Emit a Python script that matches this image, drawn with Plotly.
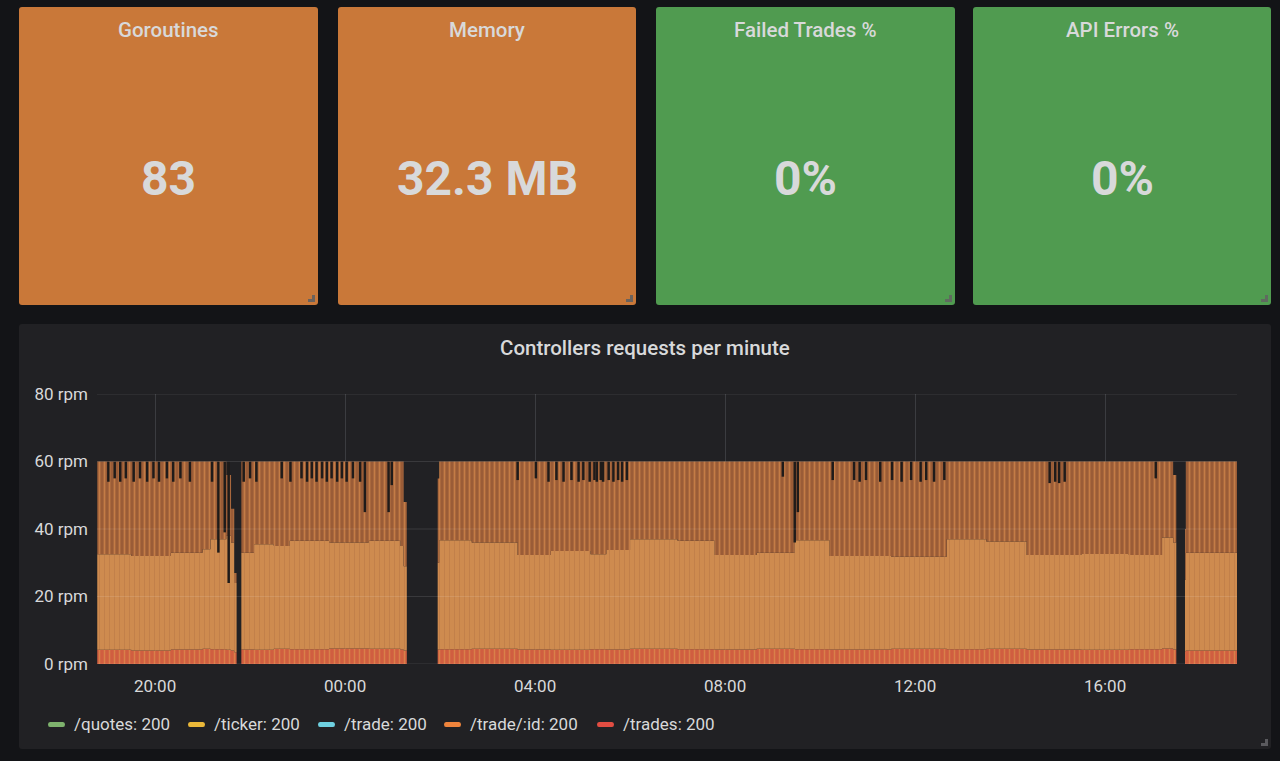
import plotly.graph_objects as go

# ---------------- data ----------------
stat_titles = ["Goroutines", "Memory", "Failed Trades %", "API Errors %"]
stat_values = ["83", "32.3 MB", "0%", "0%"]

series_names = ["/quotes: 200", "/ticker: 200", "/trade: 200", "/trade/:id: 200", "/trades: 200"]

# breakpoints of the stacked series (values hold until next time)
times = [
    "2021-01-01 18:47", "2021-01-01 19:30", "2021-01-01 20:20", "2021-01-01 21:00",
    "2021-01-01 21:10", "2021-01-01 21:30", "2021-01-01 21:36", "2021-01-01 21:40",
    "2021-01-01 21:43",
    "2021-01-01 21:49", "2021-01-01 22:05", "2021-01-01 22:30", "2021-01-01 22:50",
    "2021-01-01 23:40", "2021-01-02 00:30", "2021-01-02 01:10", "2021-01-02 01:14",
    "2021-01-02 01:18",
    "2021-01-02 01:57", "2021-01-02 01:59", "2021-01-02 02:40", "2021-01-02 03:38",
    "2021-01-02 04:20", "2021-01-02 05:10", "2021-01-02 05:30", "2021-01-02 06:00",
    "2021-01-02 07:00", "2021-01-02 07:47", "2021-01-02 08:40", "2021-01-02 09:28",
    "2021-01-02 10:12", "2021-01-02 11:30", "2021-01-02 12:40", "2021-01-02 13:30",
    "2021-01-02 14:21", "2021-01-02 15:30", "2021-01-02 16:30", "2021-01-02 17:12",
    "2021-01-02 17:26", "2021-01-02 17:30",
    "2021-01-02 17:41", "2021-01-02 17:42", "2021-01-02 18:47",
]
# /trades: 200 rpm (bottom of the stack)
trades_rpm = [
    4.2, 4.0, 4.3, 4.5, 4.4, 4.2, 4.0, 3.5, 0,
    4.3, 4.2, 4.5, 4.4, 4.6, 4.5, 4.3, 4.0, 0,
    4.3, 4.4, 4.5, 4.3, 4.2, 4.4, 4.3, 4.5, 4.4, 4.3, 4.5, 4.4, 4.3, 4.5, 4.4, 4.5,
    4.3, 4.2, 4.4, 4.6, 4.3, 0,
    3.8, 4.0, 4.0,
]
# stacked level reached by /trade/:id at its lows (rpm)
trade_id_low_total = [
    32.5, 32.0, 33.0, 34.0, 37.0, 38.0, 36.0, 24.0, 0,
    33.0, 35.5, 35.0, 36.5, 36.0, 36.5, 35.0, 29.0, 0,
    30.0, 36.7, 36.0, 32.3, 33.5, 32.5, 33.8, 37.0, 36.5, 32.3, 33.0, 36.7, 32.0, 31.8,
    37.0, 36.3, 32.3, 32.6, 32.3, 37.5, 36.0, 0,
    25.0, 33.0, 32.8,
]
# stacked level reached by /trade/:id at its peaks (rpm)
trade_id_peak_total = [
    60, 60, 60, 60, 60, 56, 46, 27, 0,
    60, 60, 60, 60, 60, 60, 60, 48, 0,
    55, 60, 60, 60, 60, 60, 60, 60, 60, 60, 60, 60, 60, 60, 60, 60, 60, 60, 60, 60, 56, 0,
    40, 60, 60,
]

# short dips of the total below 60 rpm (time, lowest total rpm)
dip_times = [
    "2021-01-01 19:01", "2021-01-01 19:09", "2021-01-01 19:16", "2021-01-01 19:23",
    "2021-01-01 19:33", "2021-01-01 19:41", "2021-01-01 19:50", "2021-01-01 19:58",
    "2021-01-01 20:05", "2021-01-01 20:15", "2021-01-01 20:23", "2021-01-01 20:32",
    "2021-01-01 20:44", "2021-01-01 21:12", "2021-01-01 21:20", "2021-01-01 21:28",
    "2021-01-01 21:33",
    "2021-01-01 21:52", "2021-01-01 22:00", "2021-01-01 22:08", "2021-01-01 22:40",
    "2021-01-01 22:51", "2021-01-01 23:05", "2021-01-01 23:12", "2021-01-01 23:18",
    "2021-01-01 23:24", "2021-01-01 23:31", "2021-01-01 23:37", "2021-01-01 23:43",
    "2021-01-01 23:50", "2021-01-01 23:56", "2021-01-02 00:02", "2021-01-02 00:10",
    "2021-01-02 00:19", "2021-01-02 00:25", "2021-01-02 00:55", "2021-01-02 00:59",
    "2021-01-02 03:38", "2021-01-02 04:01", "2021-01-02 04:17", "2021-01-02 04:27",
    "2021-01-02 04:36", "2021-01-02 04:46", "2021-01-02 04:55", "2021-01-02 05:01",
    "2021-01-02 05:09", "2021-01-02 05:15", "2021-01-02 05:18", "2021-01-02 05:23",
    "2021-01-02 05:26", "2021-01-02 05:33", "2021-01-02 05:39", "2021-01-02 05:45",
    "2021-01-02 05:50", "2021-01-02 05:56",
    "2021-01-02 09:13", "2021-01-02 09:28", "2021-01-02 09:32", "2021-01-02 10:16",
    "2021-01-02 10:43", "2021-01-02 10:50", "2021-01-02 10:58", "2021-01-02 11:16",
    "2021-01-02 11:31", "2021-01-02 11:43", "2021-01-02 11:55", "2021-01-02 12:07",
    "2021-01-02 12:14", "2021-01-02 12:24", "2021-01-02 12:37",
    "2021-01-02 14:50", "2021-01-02 14:57", "2021-01-02 15:02", "2021-01-02 15:09",
    "2021-01-02 17:04",
]
dip_low_rpm = [
    54, 55, 54, 55, 54, 55, 54, 55, 54, 55, 54, 55, 54, 54, 33, 39, 24,
    54, 55, 54, 55, 54, 55, 54, 55, 54, 55, 54, 55, 54, 55, 54, 55, 54, 45, 45, 53,
    54.5, 55, 54, 54.5, 54, 54.5, 54, 54.5, 54, 54.5, 54, 54.5, 54, 54.5, 54, 54.5, 54, 54.5,
    55.5, 36, 45, 54.5, 54.5, 54, 54.5, 54, 54.5, 54, 54.5, 54, 54.5, 54, 54.5,
    53.6, 54, 53.6, 54, 55,
]
top_rpm = 60

x_start, x_end = "2021-01-01 18:46:40", "2021-01-02 18:46:40"

# ---------------- styles ----------------
W, H = 1280, 761
BG = "#131417"
PANEL = "#212124"
ORANGE_STAT = "#C97839"
GREEN_STAT = "#509B50"
TXT = "#d8d9da"
FONT = "Roboto, Inter, sans-serif"
legend_colors = ["#7EB26D", "#EAB839", "#6ED0E0", "#EF843C", "#E24D42"]


def px(x):
    return x / W


def py(y):
    return 1 - y / H


def rrect(x0, y0, x1, y1, r, color):
    path = (
        f"M {px(x0 + r)} {py(y0)} L {px(x1 - r)} {py(y0)} "
        f"Q {px(x1)} {py(y0)} {px(x1)} {py(y0 + r)} L {px(x1)} {py(y1 - r)} "
        f"Q {px(x1)} {py(y1)} {px(x1 - r)} {py(y1)} L {px(x0 + r)} {py(y1)} "
        f"Q {px(x0)} {py(y1)} {px(x0)} {py(y1 - r)} L {px(x0)} {py(y0 + r)} "
        f"Q {px(x0)} {py(y0)} {px(x0 + r)} {py(y0)} Z"
    )
    return dict(type="path", xref="paper", yref="paper", path=path,
                fillcolor=color, line=dict(width=0), layer="below")


def grip(x1, y1, color="#5f5f63"):
    # small resize handle in the bottom-right corner of a panel
    path = (f"M {px(x1 - 6)} {py(y1 - 6)} L {px(x1 - 6)} {py(y1 - 10)} L {px(x1 - 3)} {py(y1 - 10)} "
            f"L {px(x1 - 3)} {py(y1 - 3)} L {px(x1 - 10)} {py(y1 - 3)} L {px(x1 - 10)} {py(y1 - 6)} Z")
    return dict(type="path", xref="paper", yref="paper", path=path,
                fillcolor=color, line=dict(width=0), layer="above")


fig = go.Figure()

# stacked components derived from the read levels
light_part = [b - t for b, t in zip(trade_id_low_total, trades_rpm)]
dark_part = [p - b for p, b in zip(trade_id_peak_total, trade_id_low_total)]

fig.add_trace(go.Scatter(
    x=times, y=trades_rpm, stackgroup="s", mode="lines",
    line=dict(width=0, shape="hv"), fillcolor="#D05E40",
    fillpattern=dict(shape="|", size=5, solidity=0.3, bgcolor="#D05E40",
                     fgcolor="#D98049", fgopacity=1),
    name=series_names[4], showlegend=False, hoverinfo="skip"))
fig.add_trace(go.Scatter(
    x=times, y=light_part, stackgroup="s", mode="lines",
    line=dict(width=0, shape="hv"), fillcolor="#CD8A4E",
    fillpattern=dict(shape="|", size=5, solidity=0.2, bgcolor="#CE8B4F",
                     fgcolor="#C2804A", fgopacity=1),
    name=series_names[3], showlegend=False, hoverinfo="skip"))
fig.add_trace(go.Scatter(
    x=times, y=dark_part, stackgroup="s", mode="lines",
    line=dict(width=0, shape="hv"), fillcolor="#A8673E",
    fillpattern=dict(shape="|", size=5, solidity=0.35, bgcolor="#9A5C37",
                     fgcolor="#C47C46", fgopacity=1),
    name=series_names[3], showlegend=False, hoverinfo="skip"))

# dips: dark notches cut from the top of the stack (vertical segments)
dip_x, dip_y = [], []
for t, lo in zip(dip_times, dip_low_rpm):
    dip_x += [t, t, None]
    dip_y += [top_rpm, lo, None]
fig.add_trace(go.Scatter(
    x=dip_x, y=dip_y, mode="lines", connectgaps=False,
    line=dict(color="#1f1b1a", width=2.5),
    showlegend=False, hoverinfo="skip"))

shapes = []
annotations = []

# stat panels
stat_boxes = [(19, 7, 318, 305), (338, 7, 636, 305), (656, 7, 955, 305), (973, 7, 1271, 305)]
stat_colors = [ORANGE_STAT, ORANGE_STAT, GREEN_STAT, GREEN_STAT]
for (x0, y0, x1, y1), c, t, v in zip(stat_boxes, stat_colors, stat_titles, stat_values):
    shapes.append(rrect(x0, y0, x1, y1, 3, c))
    shapes.append(grip(x1, y1, "#6b625c" if c == ORANGE_STAT else "#5f6a5f"))
    cx = (x0 + x1) / 2
    annotations.append(dict(x=px(cx), y=py(30), xref="paper", yref="paper", text=t,
                            showarrow=False, xanchor="center", yanchor="middle",
                            font=dict(family=FONT, size=20.5, color=TXT, weight=500)))
    annotations.append(dict(x=px(cx), y=py(178), xref="paper", yref="paper", text=v,
                            showarrow=False, xanchor="center", yanchor="middle",
                            font=dict(family=FONT, size=48, color=TXT, weight="bold")))

# graph panel
shapes.append(rrect(19, 324, 1271, 749, 3, PANEL))
shapes.append(grip(1271, 749, "#5a5a5e"))
annotations.append(dict(x=px(645), y=py(348), xref="paper", yref="paper",
                        text="Controllers requests per minute", showarrow=False,
                        xanchor="center", yanchor="middle",
                        font=dict(family=FONT, size=20.5, color=TXT, weight=500)))

# faint horizontal grid drawn over the fills
for gv in [0, 20, 40, 60, 80]:
    shapes.append(dict(type="line", xref="paper", yref="y", x0=px(97), x1=px(1237),
                       y0=gv, y1=gv, line=dict(color="rgba(255,255,255,0.11)", width=1),
                       layer="above"))

# legend (custom, compact)
leg_sym_x = [48, 188, 318, 444, 597]
for sx, name, col in zip(leg_sym_x, series_names, legend_colors):
    shapes.append(dict(type="path", xref="paper", yref="paper",
                       path=(f"M {px(sx + 2)} {py(722)} L {px(sx + 15)} {py(722)} "
                             f"Q {px(sx + 17)} {py(722)} {px(sx + 17)} {py(724.5)} "
                             f"Q {px(sx + 17)} {py(727)} {px(sx + 15)} {py(727)} "
                             f"L {px(sx + 2)} {py(727)} Q {px(sx)} {py(727)} {px(sx)} {py(724.5)} "
                             f"Q {px(sx)} {py(722)} {px(sx + 2)} {py(722)} Z"),
                       fillcolor=col, line=dict(width=0), layer="above"))
    annotations.append(dict(x=px(sx + 24), y=py(724), xref="paper", yref="paper",
                            text=name, showarrow=False, xanchor="left", yanchor="middle",
                            font=dict(family=FONT, size=17, color=TXT)))

fig.update_layout(
    template="none",
    width=W, height=H, autosize=False,
    margin=dict(l=0, r=0, t=0, b=0, pad=0, autoexpand=False),
    paper_bgcolor=BG, plot_bgcolor="rgba(0,0,0,0)",
    showlegend=False,
    shapes=shapes, annotations=annotations,
    xaxis=dict(type="date", range=[x_start, x_end], domain=[px(97), px(1237)],
               tick0="2021-01-01 20:00", dtick=4 * 3600 * 1000, tickformat="%H:%M",
               showgrid=True, gridcolor="#3b3c40", gridwidth=1, zeroline=False,
               showline=False, ticks="", ticklabelstandoff=10, automargin=False,
               tickfont=dict(family=FONT, size=17, color=TXT), fixedrange=True),
    yaxis=dict(range=[0, 80], domain=[py(664), py(394)], dtick=20, ticksuffix=" rpm",
               showgrid=False, zeroline=False, showline=False, ticks="",
               ticklabelstandoff=8, automargin=False,
               tickfont=dict(family=FONT, size=17, color=TXT), fixedrange=True),
)

fig.write_html("out.html", config={"displayModeBar": False, "responsive": False},
               post_script="document.body.style.margin='0';document.body.style.background='#131417';")
